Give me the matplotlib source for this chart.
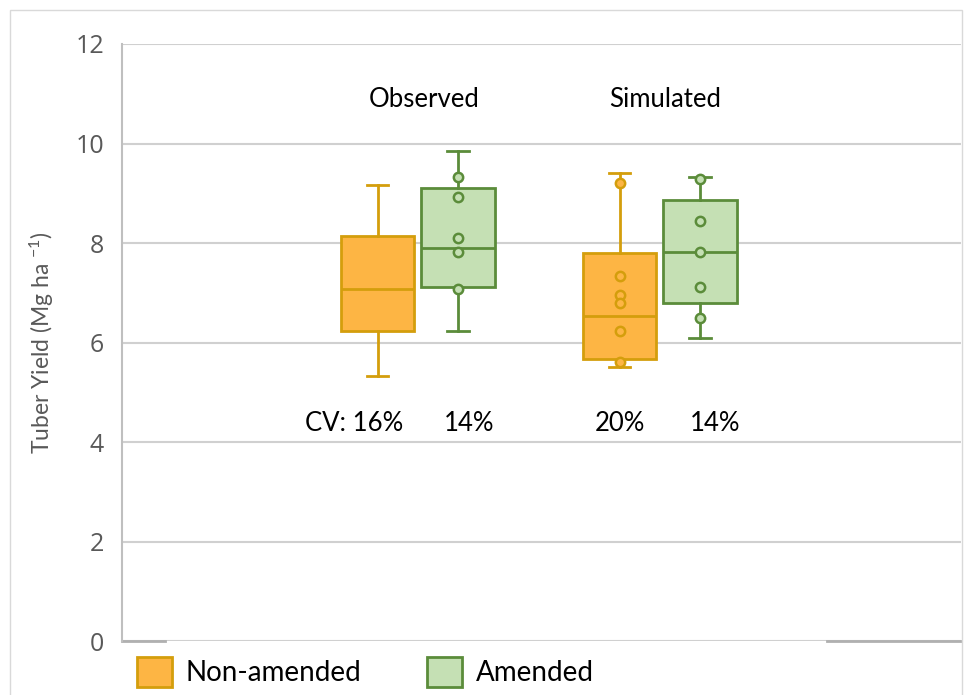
import numpy as np
import matplotlib
matplotlib.use("Agg")
import matplotlib.pyplot as plt
from matplotlib.patches import Patch, Rectangle

plt.rcParams['font.family'] = ['Lato', 'DejaVu Sans']
plt.rcParams['mathtext.fontset'] = 'custom'
plt.rcParams['mathtext.rm'] = 'Lato'
plt.rcParams['mathtext.it'] = 'Lato:italic'

# box statistics (Mg ha-1): observed / simulated, non-amended / amended
groups = ['Observed', 'Simulated']
treatments = ['Non-amended', 'Amended']
q1 = [[6.24, 7.12], [5.67, 6.80]]
med = [[7.07, 7.91], [6.54, 7.82]]
q3 = [[8.14, 9.11], [7.81, 8.86]]
whislo = [[5.33, 6.23], [5.51, 6.09]]
whishi = [[9.17, 9.86], [9.41, 9.33]]
# individual values shown as dots
points = [[[], [9.33, 8.92, 8.10, 7.82, 7.07]],
          [[9.21, 7.35, 6.96, 6.79, 6.24, 5.61], [9.28, 8.45, 7.82, 7.12, 6.50]]]
cv_labels = [['CV: 16%', '14%'], ['20%', '14%']]

fill = ['#FDB544', '#C5E0B4']
edge = ['#D49E0C', '#5B8C3A']

fig = plt.figure(figsize=(9.66, 6.95), dpi=100)
ax = fig.add_axes([0.1263, 0.077, 0.8685, 0.8597])

offset = 0.167
width = 0.305
cv_x = [[0.736, 1.211], [1.835, 2.227]]
title_x = [1.025, 2.021]
for g in range(2):
    for t in range(2):
        pos = g + 1 + (offset if t else -offset)
        st = dict(med=med[g][t], q1=q1[g][t], q3=q3[g][t],
                  whislo=whislo[g][t], whishi=whishi[g][t], fliers=[])
        ax.bxp([st], positions=[pos], widths=width, capwidths=0.09,
               patch_artist=True, showfliers=False,
               boxprops=dict(facecolor=fill[t], edgecolor=edge[t], linewidth=2),
               medianprops=dict(color=edge[t], linewidth=2),
               whiskerprops=dict(color=edge[t], linewidth=2),
               capprops=dict(color=edge[t], linewidth=2),
               zorder=3)
        if points[g][t]:
            ax.scatter([pos] * len(points[g][t]), points[g][t], s=45,
                       facecolor=fill[t], edgecolor=edge[t], linewidth=1.8,
                       zorder=4)
        ax.text(cv_x[g][t], 4.38, cv_labels[g][t],
                ha='center', va='center', fontsize=18.5, color='black')
    ax.text(title_x[g], 10.89, groups[g], ha='center', va='center',
            fontsize=18.5, color='black')

ax.set_xlim(-0.223, 3.244)
ax.set_ylim(0, 12)
ax.set_yticks(np.arange(0, 13, 2))
ax.set_xticks([])
ax.tick_params(axis='y', length=0, pad=13, labelsize=18, labelcolor='#595959')
for lab in ax.get_yticklabels():
    lab.set_family(['Open Sans', 'DejaVu Sans'])
ax.yaxis.grid(True, color='#D0D0D0', linewidth=1.5)
ax.set_axisbelow(True)
for s in ['top', 'right', 'bottom']:
    ax.spines[s].set_visible(False)
ax.spines['left'].set_color('#BFBFBF')
ax.spines['left'].set_linewidth(1.5)
ax.axhline(0, xmin=0, xmax=0.051, color='#B0B0B0', linewidth=2, clip_on=False)
ax.axhline(0, xmin=0.84, xmax=1, color='#B0B0B0', linewidth=2, clip_on=False)

ax.set_ylabel(r'Tuber Yield (Mg ha $^{-1}$)', fontsize=16.5, color='#595959',
              labelpad=14)

handles = [Patch(facecolor=fill[i], edgecolor=edge[i], linewidth=2)
           for i in range(2)]
fig.legend(handles, treatments, loc='center left',
           bbox_to_anchor=(0.1418, 0.033), borderpad=0, borderaxespad=0,
           ncol=2, frameon=False, fontsize=20, handlelength=1.26,
           handleheight=1.26, columnspacing=2.4, handletextpad=0.47)

fig.patches.append(Rectangle((10 / 966, -0.01), 952 / 966, 0.996,
                             transform=fig.transFigure, fill=False,
                             edgecolor='#D9D9D9', linewidth=1))

fig.savefig('out.png', dpi=100)
